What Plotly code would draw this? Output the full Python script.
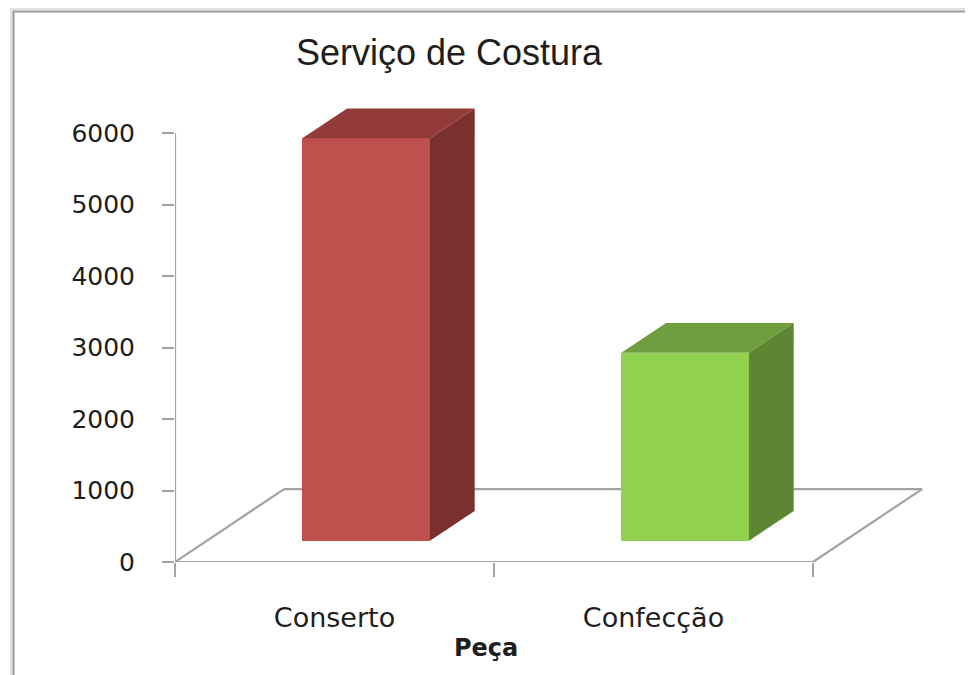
import plotly.graph_objects as go

# ---- data ----
categories = ["Conserto", "Confecção"]
values = [5630, 2630]
y_ticks = [0, 1000, 2000, 3000, 4000, 5000, 6000]
title_text = "Serviço de Costura"
x_title = "Peça"

# ---- style / projection ----
front_colors = ["#C0504D", "#92D050"]
top_colors = ["#933B39", "#6E9E3D"]
side_colors = ["#7A302E", "#5D8632"]
DX, DY = 0.342, 1020.0      # floor depth offset (x units, value units)
D_F, D_B = 0.29, 0.70       # bar front/back depth fractions
BAR_W = 0.40
floor_col = "#A3A3A3"
O = 8                       # page body offset (px)

n = len(categories)
fig = go.Figure()

shift_x = D_F * DX
base = D_F * DY
ddx = (D_B - D_F) * DX
ddy = (D_B - D_F) * DY
centers = [i + 0.5 + shift_x for i in range(n)]

# front faces
fig.add_trace(go.Bar(
    x=centers, y=values, base=[base] * n, width=BAR_W,
    marker=dict(color=front_colors, line=dict(width=0)),
    hovertext=categories, hoverinfo="text+y", showlegend=False))

# top and side faces
for i, v in enumerate(values):
    xl = centers[i] - BAR_W / 2
    xr = centers[i] + BAR_W / 2
    yt = base + v
    fig.add_trace(go.Scatter(
        x=[xl, xr, xr + ddx, xl + ddx, xl],
        y=[yt, yt, yt + ddy, yt + ddy, yt],
        fill="toself", fillcolor=top_colors[i], mode="lines",
        line=dict(width=0, color=top_colors[i]), hoverinfo="skip", showlegend=False))
    fig.add_trace(go.Scatter(
        x=[xr, xr + ddx, xr + ddx, xr, xr],
        y=[base, base + ddy, yt + ddy, yt, base],
        fill="toself", fillcolor=side_colors[i], mode="lines",
        line=dict(width=0, color=side_colors[i]), hoverinfo="skip", showlegend=False))

# floor and value axis line (below traces)
shapes = []
floor_lines = [
    (0, 0, n, 0),
    (0, 0, DX, DY),
    (DX, DY, n + DX, DY),
    (n, 0, n + DX, DY),
    (0, 0, 0, y_ticks[-1]),
]
for x0, y0, x1, y1 in floor_lines:
    shapes.append(dict(type="line", xref="x", yref="y", x0=x0, y0=y0, x1=x1, y1=y1,
                       line=dict(color=floor_col, width=2.2), layer="below"))

# plot area in reference screen pixels
L, T, R, B = 175, 100, 940, 562
def px2paper_x(p):
    return (p - L) / (R - L)
def px2paper_y(p):
    return (B - p) / (B - T)

# outer chart border
shapes.append(dict(type="rect", xref="paper", yref="paper",
                   x0=px2paper_x(11), y0=px2paper_y(700), x1=px2paper_x(1000), y1=px2paper_y(9),
                   line=dict(color="#D6D6D6", width=1.5), layer="below"))
shapes.append(dict(type="rect", xref="paper", yref="paper",
                   x0=px2paper_x(13.5), y0=px2paper_y(700), x1=px2paper_x(1000), y1=px2paper_y(11.5),
                   line=dict(color="#9C9C9C", width=2.2), layer="below"))

px_per_unit = (813 - 175) / n
px_per_val = (562 - 133) / y_ticks[-1]

W, H = 973, 675
fig.update_layout(
    width=W, height=H,
    margin=dict(l=L - O, r=W - (R - O), t=T - O, b=H - (B - O)),
    paper_bgcolor="white", plot_bgcolor="rgba(0,0,0,0)",
    shapes=shapes,
    title=dict(text=title_text, x=(449 - O) / W, xref="container", xanchor="center",
               y=1 - (52 - O) / H, yref="container", yanchor="middle",
               font=dict(family="Liberation Sans, Arial, sans-serif", size=36, color="#1E1E1E")),
    xaxis=dict(range=[0, (R - L) / px_per_unit], showgrid=False, zeroline=False, showline=False,
               tickvals=[i + 0.5 for i in range(n)], ticktext=categories, ticks="",
               ticklabelstandoff=37,
               tickfont=dict(family="DejaVu Sans, Verdana, sans-serif", size=27, color="#1E1E1E"),
               minor=dict(tickvals=list(range(n + 1)), ticks="outside", ticklen=14,
                          tickcolor=floor_col, tickwidth=2.2, showgrid=False),
               fixedrange=True),
    yaxis=dict(range=[0, (B - T) / px_per_val], showgrid=False, zeroline=False, showline=False,
               tickvals=y_ticks, ticks="outside", ticklen=12, tickcolor=floor_col, tickwidth=2.2,
               ticklabelstandoff=22,
               tickfont=dict(family="DejaVu Sans, Verdana, sans-serif", size=25, color="#1E1E1E"),
               fixedrange=True),
    annotations=[dict(text="<b>" + x_title + "</b>", xref="x", yref="paper",
                      x=n / 2, xshift=-8, y=px2paper_y(648), yanchor="middle", showarrow=False,
                      font=dict(family="DejaVu Sans, Verdana, sans-serif", size=24, color="#1E1E1E"))],
    bargap=0,
)

fig.write_html("out.html")
